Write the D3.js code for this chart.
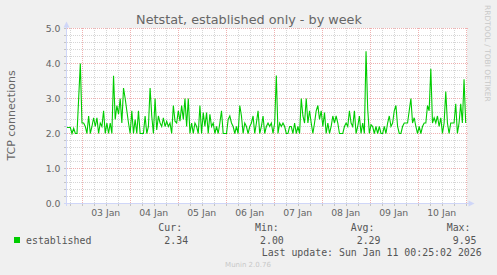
<!DOCTYPE html>
<html lang="en">
<head>
    <meta charset="UTF-8">
    <title>Netstat, established only - by week</title>
    <script src="https://d3js.org/d3.v7.min.js"></script>
    <style>
        body { margin: 0; background: #f0f0f0; }
        svg { display: block; }
        .mono { font-family: "DejaVu Sans Mono", monospace; font-size: 9.9px; fill: #555; }
        .sans { font-family: "DejaVu Sans", sans-serif; fill: #666; }
    </style>
</head>
<body>
<div id="graph"></div>
<script>
    //---------------------------- data ----------------------------
    var debut = new Date(2026, 0, 2, 16, 40);   // first sample
    var fin = new Date(2026, 0, 11, 0, 0);      // last sample
    var established = [
        2.17, 2.17, 2.17, 2.0, 2.15, 2.0, 2.0, 3.0, 4.0, 2.3,
        2.3, 2.2, 2.0, 2.5, 2.0, 2.2, 2.45, 2.2, 2.45, 2.0,
        2.3, 2.2, 2.65, 2.0, 2.3, 2.0, 2.3, 2.0, 3.65, 2.4,
        2.8, 2.55, 3.0, 2.3, 3.3, 3.0, 2.65, 2.3, 2.0, 2.65,
        2.0, 2.4, 2.0, 2.65, 2.0, 2.0, 2.0, 2.5, 2.0, 2.2,
        3.3, 2.5, 2.0, 3.0, 2.1, 2.5, 2.3, 2.2, 2.45, 2.2,
        2.35, 2.2, 2.3, 2.0, 2.8, 2.35, 2.3, 2.65, 2.35, 2.8,
        2.4, 3.0, 2.2, 3.0, 2.0, 2.3, 2.0, 2.3, 2.2, 2.0,
        2.8,
        2.0, 2.6, 2.2, 2.6, 2.0, 2.55, 2.2, 2.3, 2.0, 2.2,
        2.0, 2.3, 2.65, 2.0, 2.0, 2.0, 2.4, 2.5, 2.3, 2.2,
        2.0, 2.2, 2.0, 2.8, 2.5, 2.0, 2.3, 2.2, 2.0, 2.2,
        2.3, 2.5, 2.0, 2.3, 2.65, 2.0, 2.2, 2.5, 2.0, 2.2,
        2.3,
        2.2, 2.3, 2.0, 2.3, 3.66, 2.0, 2.3, 2.2, 2.3, 2.2,
        2.0, 2.0, 2.2, 2.2, 2.0, 2.3, 2.0, 2.2, 2.0, 3.0,
        2.5, 2.3, 3.0, 2.3, 2.65, 2.3, 2.0, 2.3, 2.65, 2.8,
        2.4, 2.65, 2.2, 2.6, 2.0, 2.3, 2.0, 2.2, 2.5, 2.3,
        2.5,
        2.3, 2.0, 2.0, 2.0, 2.2, 2.3, 2.2, 2.65, 2.3, 2.2,
        2.65, 2.0, 2.2, 2.5, 2.0, 2.3, 2.0, 4.35, 2.7, 2.0,
        2.25, 2.2, 2.0, 2.2, 2.0, 2.2, 2.0, 2.0, 2.2, 2.0,
        2.3, 2.5, 2.2, 2.3, 2.65, 2.8, 2.2, 2.0, 2.0, 2.2,
        2.3,
        2.3, 2.3, 2.65, 3.0, 2.3, 2.45, 2.2, 2.0, 2.2, 2.0,
        2.2, 2.3, 2.3, 2.8, 2.65, 3.85, 2.3, 2.45, 2.3, 2.5,
        2.2, 2.45, 2.0, 2.3, 3.2, 2.3, 2.0, 2.3, 2.3, 2.3,
        2.85, 2.0, 2.3, 2.85, 2.3, 3.55, 2.3
    ];
    var yTicks = [0, 1, 2, 3, 4, 5];
    var legendNom = "established";
    var legendTitres = ["Cur:", "Min:", "Avg:", "Max:"];
    var legendValeurs = ["2.34", "2.00", "2.29", "9.95"];
    var lastUpdate = "Last update: Sun Jan 11 00:25:02 2026";

    //---------------------------- svg + scales ----------------------------
    var W = 497, H = 275;
    var svg = d3.select("#graph").append("svg").attr("width", W).attr("height", H);

    var x = d3.scaleTime()
        .domain([new Date(2026, 0, 2, 16, 39), new Date(2026, 0, 11, 0, 39)])
        .range([67, 467]);
    var y = d3.scaleLinear().domain([0, 5]).range([203.5, 28.5]);

    var pas = (fin - debut) / (established.length - 1);
    var points = established.map(function (v, i) {
        return { t: new Date(debut.getTime() + i * pas), v: v };
    });

    // white canvas
    svg.append("rect").attr("x", 67).attr("y", 28).attr("width", 400).attr("height", 175).attr("fill", "#fff");

    //---------------------------- grid ----------------------------
    var grille = svg.append("g").attr("stroke-dasharray", "1,1").attr("stroke-width", 1);
    var mineursY = d3.range(1, 25).filter(function (i) { return i % 5 != 0; }).map(function (i) { return i / 5; });
    grille.selectAll(".hmin").data(mineursY).enter().append("line")
        .attr("x1", 67).attr("x2", 468)
        .attr("y1", function (d) { return Math.round(y(d) - 0.5) + 0.5; })
        .attr("y2", function (d) { return Math.round(y(d) - 0.5) + 0.5; })
        .attr("stroke", "#d6d6d6");

    var xd = x.domain();
    var heures = d3.timeHour.every(6).range(xd[0], xd[1]).filter(function (d) { return d.getHours() != 0; });
    var jours = d3.timeDay.range(xd[0], xd[1]);
    function px(d) { return Math.round(x(d)) + 0.5; }

    grille.selectAll(".vmin").data(heures).enter().append("line")
        .attr("x1", px).attr("x2", px).attr("y1", 28).attr("y2", 203)
        .attr("stroke", "#d6d6d6");
    grille.selectAll(".hmaj").data(yTicks).enter().append("line")
        .attr("x1", 67).attr("x2", 468)
        .attr("y1", function (d) { return y(d); }).attr("y2", function (d) { return y(d); })
        .attr("stroke", "#efb0b0");
    grille.selectAll(".vmaj").data(jours).enter().append("line")
        .attr("x1", px).attr("x2", px).attr("y1", 28).attr("y2", 203)
        .attr("stroke", "#efb0b0");

    // small ticks outside the axes
    var ticks = svg.append("g").attr("stroke", "#c4c4c4");
    ticks.selectAll(".ty").data(mineursY.concat(yTicks)).enter().append("line")
        .attr("x1", 64).attr("x2", 66)
        .attr("y1", function (d) { return Math.round(y(d) - 0.5) + 0.5; })
        .attr("y2", function (d) { return Math.round(y(d) - 0.5) + 0.5; });
    ticks.selectAll(".tx").data(heures.concat(jours)).enter().append("line")
        .attr("x1", px).attr("x2", px).attr("y1", 204).attr("y2", 206);

    //---------------------------- series ----------------------------
    var ligne = d3.line()
        .x(function (d) { return x(d.t); })
        .y(function (d) { return y(d.v); });
    svg.append("path").datum(points)
        .attr("d", ligne)
        .attr("fill", "none")
        .attr("stroke", "#00cc00")
        .attr("stroke-width", 1.1);

    //---------------------------- axes + arrows ----------------------------
    var axe = "#cfd6f8";
    svg.append("line").attr("x1", 66.5).attr("x2", 66.5).attr("y1", 206).attr("y2", 26).attr("stroke", axe);
    svg.append("line").attr("x1", 64).attr("x2", 469).attr("y1", 203.5).attr("y2", 203.5).attr("stroke", axe);
    svg.append("path").attr("d", "M63.5,27.5 L66.5,21.5 L69.5,27.5 Z").attr("fill", axe);
    svg.append("path").attr("d", "M468.5,200.5 L474.5,203.5 L468.5,206.5 Z").attr("fill", axe);

    //---------------------------- labels ----------------------------
    svg.selectAll(".ylab").data(yTicks).enter().append("text")
        .attr("class", "sans")
        .attr("x", 60.5).attr("y", function (d) { return y(d) + 3.3; })
        .attr("text-anchor", "end").attr("font-size", "9.3px")
        .text(function (d) { return d3.format(".1f")(d); });

    var fmtJour = d3.timeFormat("%d %b");
    svg.selectAll(".xlab").data(jours.slice(0, -1)).enter().append("text")
        .attr("class", "sans")
        .attr("x", function (d) { return x(d3.timeHour.offset(d, 12)); }).attr("y", 215.5)
        .attr("text-anchor", "middle").attr("font-size", "9.3px")
        .text(fmtJour);

    svg.append("text").attr("class", "sans")
        .attr("x", 249).attr("y", 23.5).attr("text-anchor", "middle").attr("font-size", "12.8px")
        .text("Netstat, established only - by week");

    svg.append("text").attr("class", "sans")
        .attr("transform", "translate(15,115.5) rotate(-90)")
        .attr("text-anchor", "middle").attr("font-size", "11px")
        .text("TCP connections");

    svg.append("text").attr("class", "sans")
        .attr("transform", "translate(485,5) rotate(90)")
        .attr("font-size", "7.5px").style("fill", "#c8c8c8")
        .text("RRDTOOL / TOBI OETIKER");

    //---------------------------- legend ----------------------------
    svg.append("rect").attr("x", 14).attr("y", 237).attr("width", 6).attr("height", 6).attr("fill", "#00cc00");
    svg.append("text").attr("class", "mono").attr("x", 26).attr("y", 243.5).text(legendNom);

    var colTitre = [158.3, 255, 350.7, 446.7];
    var colValeur = [164.3, 260, 356.7, 452.7];
    svg.selectAll(".lt").data(legendTitres).enter().append("text")
        .attr("class", "mono")
        .attr("x", function (d, i) { return colTitre[i]; }).attr("y", 231)
        .text(function (d) { return d; });
    svg.selectAll(".lv").data(legendValeurs).enter().append("text")
        .attr("class", "mono")
        .attr("x", function (d, i) { return colValeur[i]; }).attr("y", 243.5)
        .text(function (d) { return d; });
    svg.append("text").attr("class", "mono").attr("x", 261.7).attr("y", 255.5).text(lastUpdate);

    svg.append("text").attr("class", "sans")
        .attr("x", 248).attr("y", 266.5).attr("text-anchor", "middle")
        .attr("font-size", "7px").style("fill", "#c8c8c8")
        .text("Munin 2.0.76");
</script>
</body>
</html>
